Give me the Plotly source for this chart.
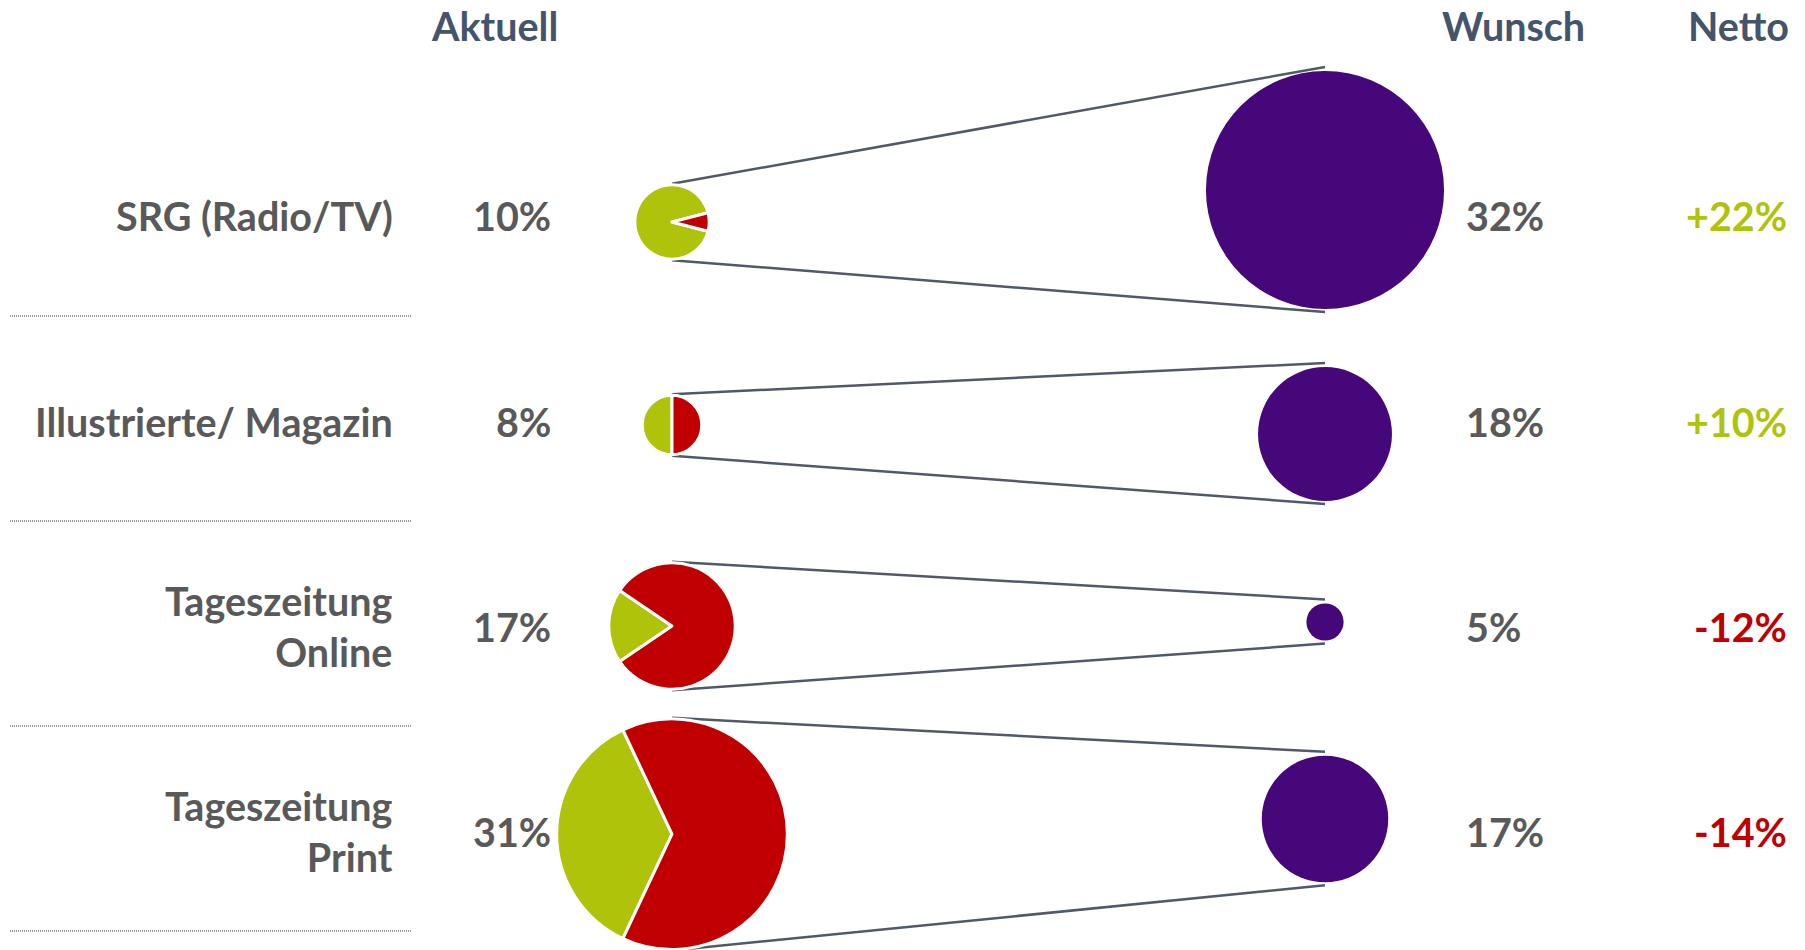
import plotly.graph_objects as go

# ---------------- data ----------------
CATEGORIES = ["SRG (Radio/TV)", "Illustrierte/ Magazin", "Tageszeitung<br>Online", "Tageszeitung<br>Print"]
AKTUELL = [10, 8, 17, 31]          # current share (%)
WUNSCH = [32, 18, 5, 17]           # desired share (%)
NETTO = [22, 10, -12, -14]         # net difference (%)
AKTUELL_GREEN = [92, 50, 19, 36]   # split of the current pie (green part)
AKTUELL_RED = [8, 50, 81, 64]      # split of the current pie (red part)
HEADERS = ["Aktuell", "Wunsch", "Netto"]

# ---------------- layout constants ----------------
W, H = 1805, 950
K = 3.72                      # radius in px per percentage point
ROW_Y = [215, 421, 626, 831]  # row text centres
AKT_DY = [7, 4, 0, 5]         # pie offsets from row centre
WUN_DY = [-25, 13, -4, -12]   # circle offsets from row centre
SEP_Y = [316, 521, 726, 931]
X_LABEL, X_AKT_TXT, X_PIE, X_WUN, X_WUN_TXT, X_NET = 395, 553, 672, 1325, 1464, 1789
HEADER_X = [494, 1513, 1791]
HEADER_ANCHOR = ["center", "center", "right"]

GREEN, RED, PURPLE = "#AFC30A", "#C00000", "#46077A"
GREY, SLATE, LINE = "#595959", "#44546A", "#4E5A66"
FONT = "Lato"
FS = 39.5

fig = go.Figure()

# connector lines (computed from the values)
lx, ly = [], []
akt_cy, wun_cy = [], []
for i in range(len(CATEGORIES)):
    ra = K * AKTUELL[i]
    rw = K * WUNSCH[i]
    ca = min(ROW_Y[i] + AKT_DY[i], H - ra - 0.5)
    cw = ROW_Y[i] + WUN_DY[i]
    akt_cy.append(ca)
    wun_cy.append(cw)
    lx += [X_PIE, X_WUN, None, X_PIE, X_WUN, None]
    ly += [ca - ra - 1, cw - rw - 4, None, ca + ra + 1, cw + rw + 3, None]

fig.add_trace(go.Scatter(x=lx, y=ly, mode="lines", line=dict(color=LINE, width=2.5),
                         hoverinfo="skip", showlegend=False))

# desired-share circles
fig.add_trace(go.Scatter(
    x=[X_WUN] * len(WUNSCH), y=wun_cy, mode="markers",
    marker=dict(size=[2 * K * v for v in WUNSCH], sizemode="diameter", color=PURPLE,
                line=dict(width=0), opacity=1),
    hoverinfo="skip", showlegend=False))

# current-share pies (green part centred on the left)
for i in range(len(CATEGORIES)):
    r = K * AKTUELL[i]
    cy = akt_cy[i]
    g = AKTUELL_GREEN[i] / (AKTUELL_GREEN[i] + AKTUELL_RED[i])
    fig.add_trace(go.Pie(
        values=[AKTUELL_GREEN[i], AKTUELL_RED[i]], labels=["a", "b"], sort=False,
        direction="counterclockwise", rotation=270 - 180 * g,
        marker=dict(colors=[GREEN, RED], line=dict(color="white", width=3)),
        textinfo="none", hoverinfo="skip", showlegend=False,
        domain=dict(x=[(X_PIE - r) / W, (X_PIE + r) / W],
                    y=[max(0, 1 - (cy + r) / H), min(1, 1 - (cy - r) / H)])))

annotations = []
for hx, anc, txt in zip(HEADER_X, HEADER_ANCHOR, HEADERS):
    annotations.append(dict(x=hx, y=25, text=txt, xanchor=anc, yanchor="middle", showarrow=False,
                            font=dict(family=FONT, size=FS, color=SLATE, weight="bold")))
for i, cat in enumerate(CATEGORIES):
    annotations.append(dict(x=X_LABEL, y=ROW_Y[i], text=cat, xanchor="right", yanchor="middle",
                            align="right", showarrow=False,
                            font=dict(family=FONT, size=FS, color=GREY, weight="bold")))
    annotations.append(dict(x=X_AKT_TXT, y=ROW_Y[i], text=f"{AKTUELL[i]}%", xanchor="right",
                            yanchor="middle", showarrow=False,
                            font=dict(family=FONT, size=FS, color=GREY, weight="bold")))
    annotations.append(dict(x=X_WUN_TXT, y=ROW_Y[i], text=f"{WUNSCH[i]}%", xanchor="left",
                            yanchor="middle", showarrow=False,
                            font=dict(family=FONT, size=FS, color=GREY, weight="bold")))
    annotations.append(dict(x=X_NET, y=ROW_Y[i], text=f"{NETTO[i]:+d}%", xanchor="right",
                            yanchor="middle", showarrow=False,
                            font=dict(family=FONT, size=FS, color=GREEN if NETTO[i] > 0 else RED,
                                      weight="bold")))

shapes = [dict(type="line", xref="x", yref="y", x0=10, x1=412, y0=y, y1=y,
               line=dict(color="#333333", width=1, dash="1px,1px")) for y in SEP_Y]

fig.update_layout(
    width=W, height=H, margin=dict(l=0, r=0, t=0, b=0),
    paper_bgcolor="white", plot_bgcolor="white",
    xaxis=dict(range=[0, W], visible=False, fixedrange=True),
    yaxis=dict(range=[H, 0], visible=False, fixedrange=True),
    annotations=annotations, shapes=shapes, showlegend=False,
)

fig.write_html("out.html", config={"displayModeBar": False},
               post_script="document.body.style.margin='0';document.body.style.overflow='hidden';")
